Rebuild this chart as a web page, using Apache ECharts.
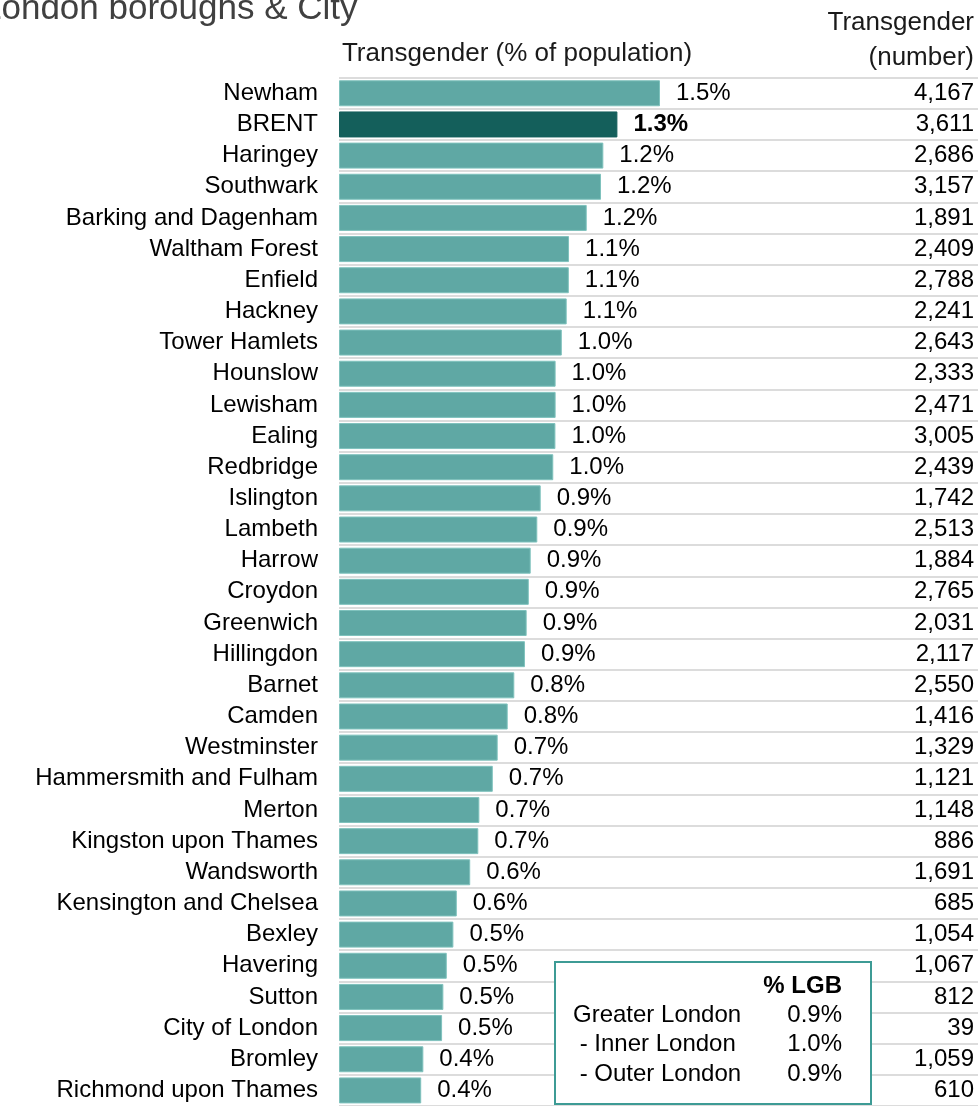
<!DOCTYPE html>
<html>
<head>
<meta charset="utf-8">
<script src="https://cdn.jsdelivr.net/npm/echarts@6/dist/echarts.min.js"></script>
<style>
  html, body { margin: 0; padding: 0; background: #ffffff; }
  #chart { width: 978px; height: 1106px; }
</style>
</head>
<body>
<div id="chart"></div>
<script>
var boroughs = ['Newham', 'BRENT', 'Haringey', 'Southwark', 'Barking and Dagenham', 'Waltham Forest',
  'Enfield', 'Hackney', 'Tower Hamlets', 'Hounslow', 'Lewisham', 'Ealing', 'Redbridge', 'Islington',
  'Lambeth', 'Harrow', 'Croydon', 'Greenwich', 'Hillingdon', 'Barnet', 'Camden', 'Westminster',
  'Hammersmith and Fulham', 'Merton', 'Kingston upon Thames', 'Wandsworth', 'Kensington and Chelsea',
  'Bexley', 'Havering', 'Sutton', 'City of London', 'Bromley', 'Richmond upon Thames'];
var transPct = [1.507, 1.307, 1.241, 1.230, 1.163, 1.080, 1.079, 1.069, 1.046, 1.017, 1.017, 1.016, 1.006,
  0.947, 0.931, 0.900, 0.891, 0.881, 0.873, 0.823, 0.792, 0.745, 0.722, 0.659, 0.654, 0.616, 0.553,
  0.537, 0.506, 0.490, 0.484, 0.396, 0.386];
var transNumber = [4167, 3611, 2686, 3157, 1891, 2409, 2788, 2241, 2643, 2333, 2471, 3005, 2439, 1742,
  2513, 1884, 2765, 2031, 2117, 2550, 1416, 1329, 1121, 1148, 886, 1691, 685, 1054, 1067, 812, 39, 1059, 610];
var highlight = 'BRENT';
var boxLabels = ['Greater London', ' - Inner London', ' - Outer London'];
var boxValues = [0.9, 1.0, 0.9];

var FONT = 'Liberation Sans';
var chart = echarts.init(document.getElementById('chart'), null, { renderer: 'canvas' });

var barData = transPct.map(function (v, i) {
  var isH = boroughs[i] === highlight;
  return {
    value: v,
    itemStyle: isH ? { color: '#145f5b', borderColor: '#145f5b' } : undefined,
    label: isH ? { fontWeight: 'bold' } : undefined
  };
});

var graphics = [
  { type: 'text', left: -18, top: -8, style: { text: 'London boroughs & City', font: '35px "' + FONT + '"', fill: '#404040' } },
  { type: 'text', x: 517, y: 54, style: { text: 'Transgender (% of population)', font: '26px "' + FONT + '"', fill: '#1a1a1a', align: 'center', verticalAlign: 'middle' } },
  { type: 'text', x: 974, y: 23, style: { text: 'Transgender', font: '26px "' + FONT + '"', fill: '#1a1a1a', align: 'right', verticalAlign: 'middle' } },
  { type: 'text', x: 974, y: 58, style: { text: '(number)', font: '26px "' + FONT + '"', fill: '#1a1a1a', align: 'right', verticalAlign: 'middle' } },
  { type: 'rect', shape: { x: 555, y: 962, width: 316, height: 142 }, style: { fill: '#ffffff', stroke: '#3d9b95', lineWidth: 2 }, z: 100 },
  { type: 'text', x: 842, y: 986, z: 101, style: { text: '% LGB', font: 'bold 24px "' + FONT + '"', fill: '#000', align: 'right', verticalAlign: 'middle' } }
];
boxLabels.forEach(function (lab, i) {
  var y = 1015 + i * 29.5;
  graphics.push({ type: 'text', x: 573, y: y, z: 101,
    style: { text: lab, font: '24px "' + FONT + '"', fill: '#000', align: 'left', verticalAlign: 'middle' } });
  graphics.push({ type: 'text', x: 842, y: y, z: 101,
    style: { text: boxValues[i].toFixed(1) + '%', font: '24px "' + FONT + '"', fill: '#000', align: 'right', verticalAlign: 'middle' } });
});

chart.setOption({
  animation: false,
  backgroundColor: '#ffffff',
  textStyle: { fontFamily: FONT },
  grid: { left: 339, right: 0, top: 77.7, height: 1030.4 },
  xAxis: { type: 'value', min: 0, max: 3, show: false },
  yAxis: [
    {
      type: 'category', data: boroughs, inverse: true, position: 'left',
      axisLine: { show: false }, axisTick: { show: false },
      axisLabel: { interval: 0, fontSize: 24, color: '#000', margin: 21, fontFamily: FONT },
      splitLine: { show: true, interval: 0, lineStyle: { color: '#dcdcdc', width: 2 } }
    },
    {
      type: 'category', data: boroughs, inverse: true, position: 'right',
      axisLine: { show: false }, axisTick: { show: false }, splitLine: { show: false },
      axisLabel: {
        interval: 0, inside: true, margin: 4, fontSize: 24, color: '#000', fontFamily: FONT,
        formatter: function (v, i) { return transNumber[i].toLocaleString('en-US'); }
      }
    }
  ],
  series: [{
    type: 'bar', data: barData, barWidth: 26, yAxisIndex: 0,
    itemStyle: { color: '#5fa8a4', borderColor: '#7fc2bd', borderWidth: 1 },
    label: {
      show: true, position: 'right', distance: 16, fontSize: 24, color: '#000', fontFamily: FONT,
      formatter: function (p) { return p.value.toFixed(1) + '%'; }
    }
  }],
  graphic: graphics
});
</script>
</body>
</html>
